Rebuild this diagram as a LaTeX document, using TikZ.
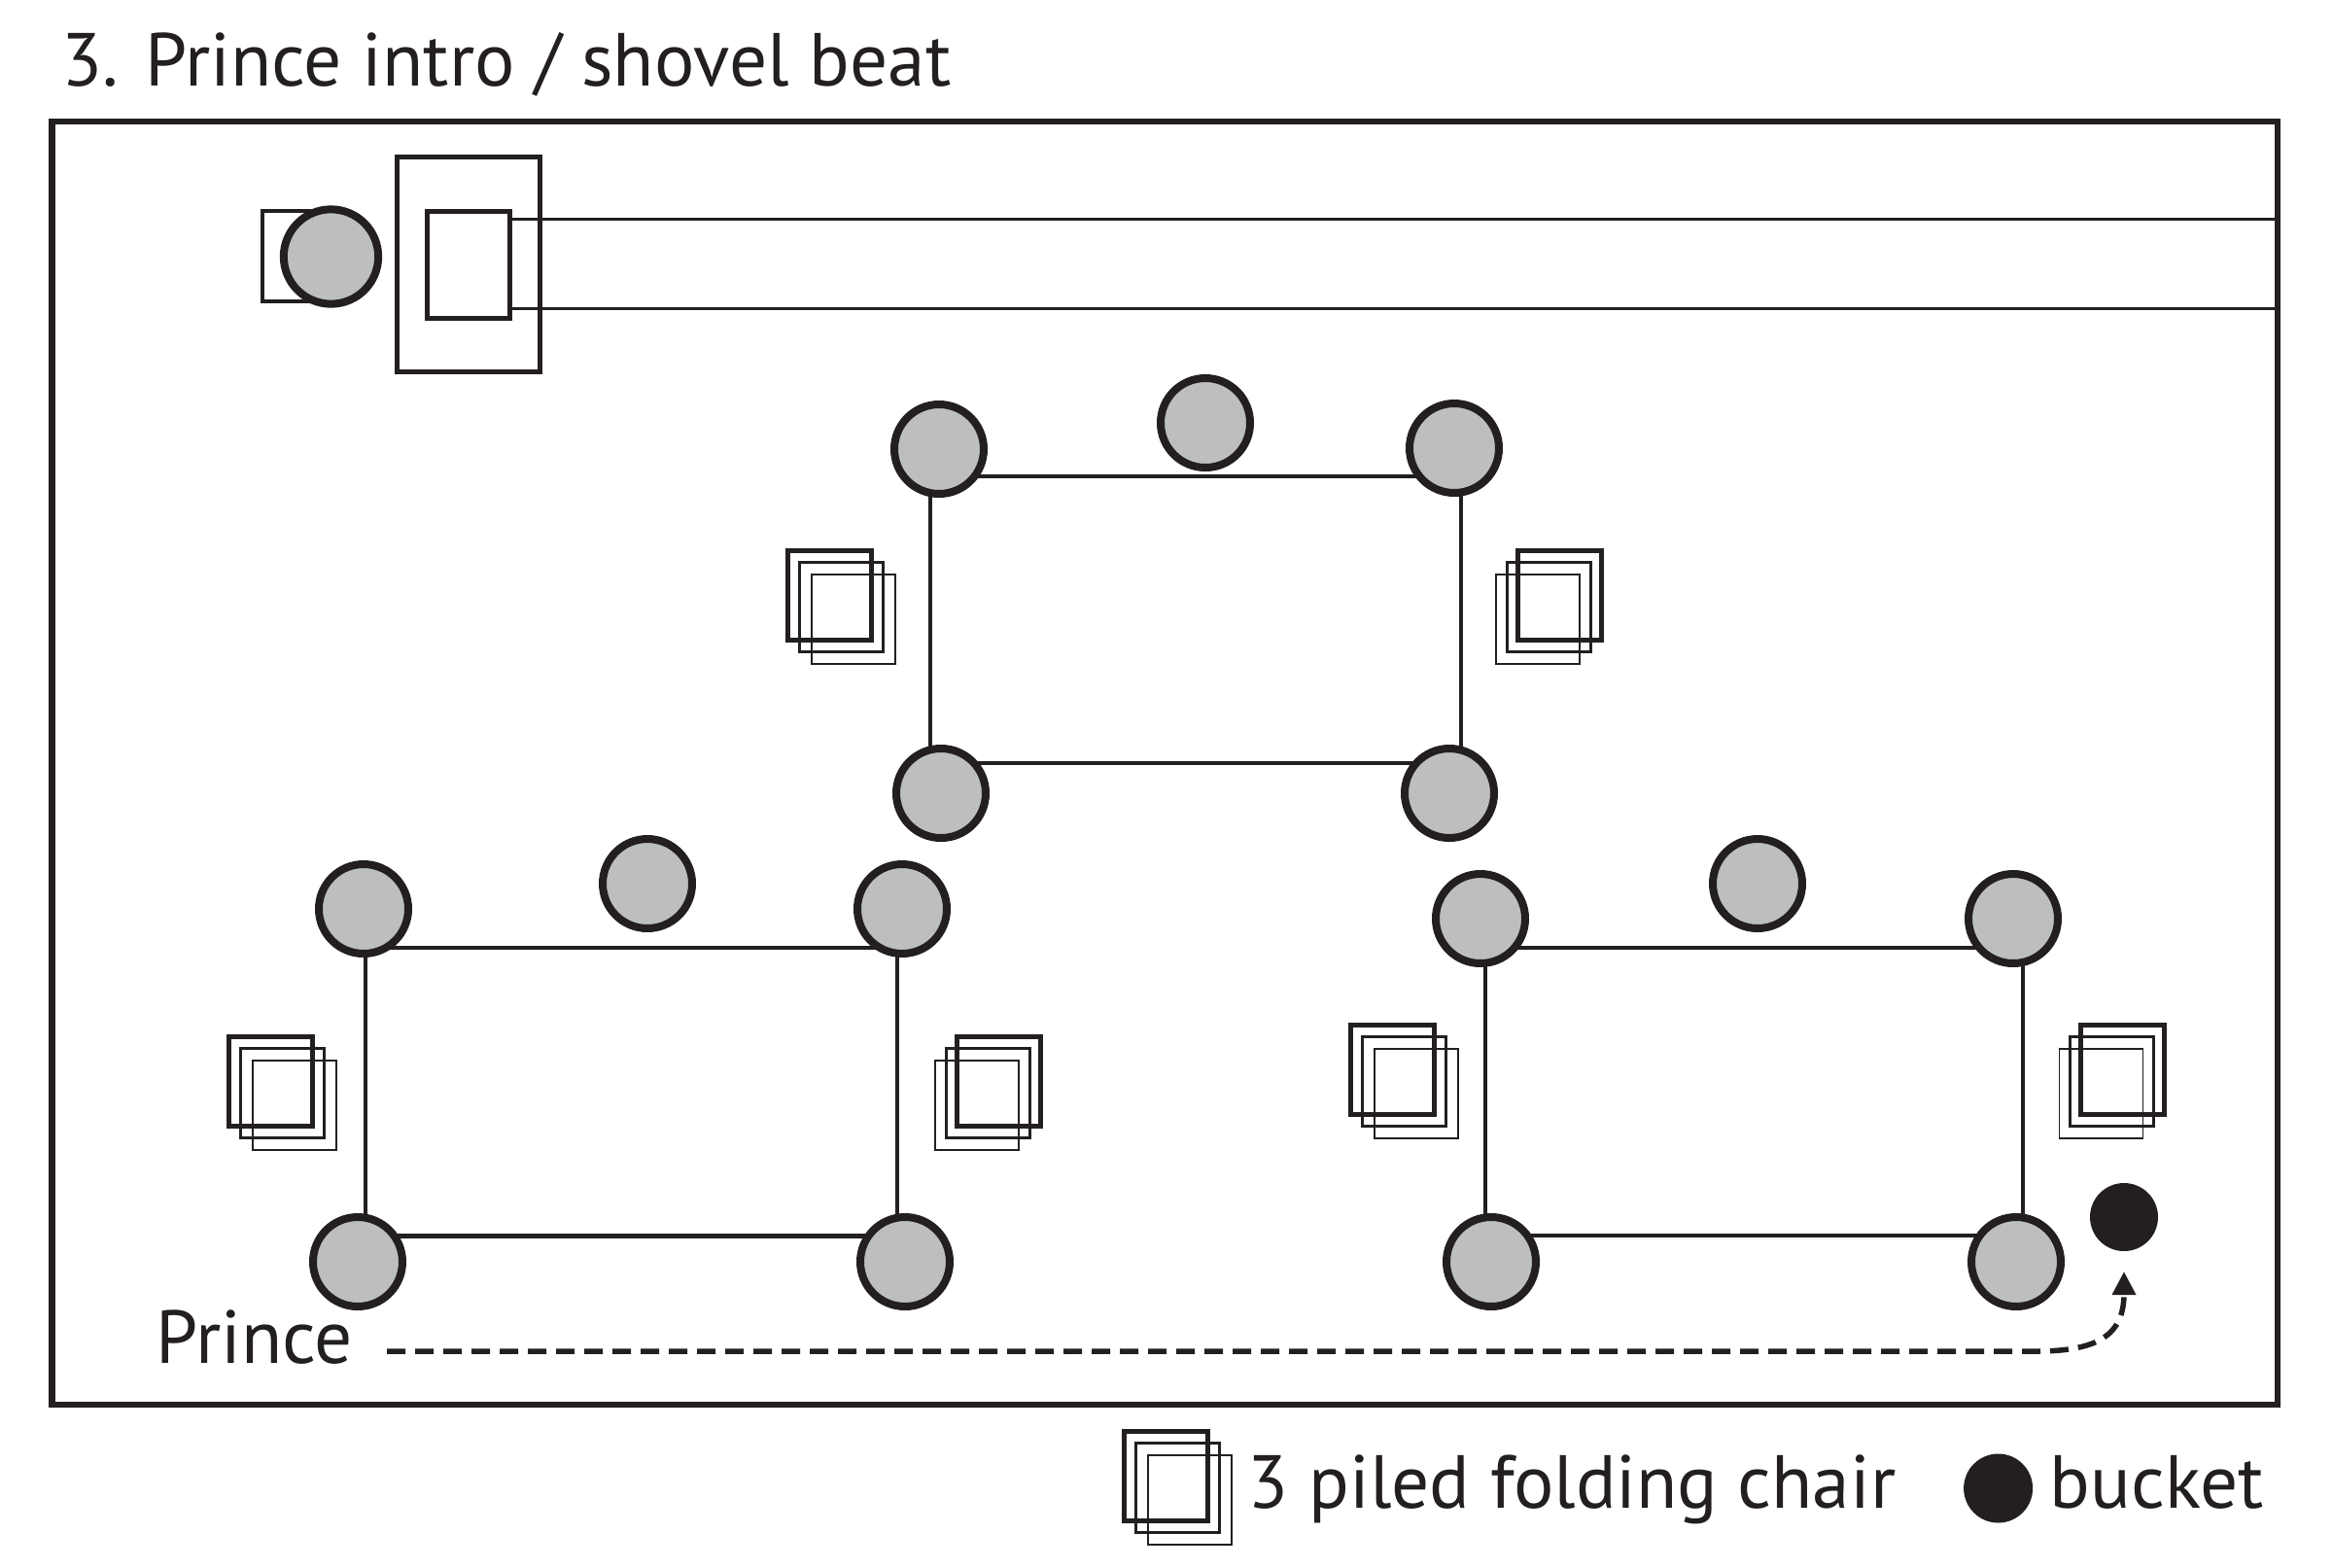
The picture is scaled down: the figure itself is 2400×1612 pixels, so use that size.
\documentclass[tikz,border=0pt]{standalone}
\usepackage{fontspec}
\setmainfont{PT Sans}
\usetikzlibrary{arrows.meta}
\definecolor{seatgray}{RGB}{188,190,192}
\definecolor{ink}{RGB}{35,31,32}
\newcommand\pileL[2]{%
  \draw[ink,line width=0.55pt] ({#1+26.9},{#2+26.9}) rectangle ++(86,92);
  \draw[ink,line width=1pt] ({#1+14.6},{#2+14.6}) rectangle ++(86,92);
  \draw[ink,line width=1.5pt] ({#1+2.5},{#2+2.5}) rectangle ++(86,92);}
\newcommand\pileR[2]{%
  \draw[ink,line width=0.55pt] ({#1-24.9},{#2+26.9}) rectangle ++(-86,92);
  \draw[ink,line width=1pt] ({#1-13.6},{#2+14.6}) rectangle ++(-86,92);
  \draw[ink,line width=1.5pt] ({#1-2.5},{#2+2.5}) rectangle ++(-86,92);}
\begin{document}
\begin{tikzpicture}[x=0.3pt,y=-0.3pt,
  seat/.style={circle,draw=ink,fill=seatgray,line width=2.4pt,minimum size=27.6pt,inner sep=0pt},
  table/.style={rectangle,draw=ink,line width=1.3pt,inner sep=0pt},
  box/.style={rectangle,draw=ink,line width=1.5pt,inner sep=0pt},
  bucketdot/.style={circle,fill=ink,minimum size=21pt,inner sep=0pt},
  txt/.style={font=\fontsize{23.2}{27}\selectfont,inner sep=0pt,anchor=base west,text=ink},
  path/.style={draw=ink,line width=1.65pt,dash pattern=on 5.7pt off 3pt,-{Triangle[length=7.2pt,width=7pt]}}]
\useasboundingbox[fill=white] (0,0) rectangle (2400,1612);

% title
\node[txt] (title) at (63,88) {3. Prince intro / shovel beat};

% frame
\node[rectangle,draw=ink,line width=2pt,inner sep=0pt,minimum width=686.85pt,minimum height=396pt] (frame) at (1198.25,785) {};

% top-left element
\draw[ink,line width=1.3pt] (320,217) -- (270,217) -- (270,310) -- (320,310);
\node[seat,minimum size=29.2pt] (tl) at (340.5,264) {};
\node[box,minimum width=43.95pt,minimum height=66.3pt] (ob) at (481.75,271.5) {};
\node[box,minimum width=25.5pt,minimum height=33pt] (ib) at (481.5,272) {};
\coordinate (l1) at (0,225.7);
\coordinate (l2) at (0,317);
\draw[ink,line width=0.9pt] (ib.east |- l1) -- (frame.east |- l1);
\draw[ink,line width=0.9pt] (ib.east |- l2) -- (frame.east |- l2);

% tables
\node[table,minimum width=163.8pt,minimum height=88.5pt] (tabT) at (1230,637.5) {};
\node[table,minimum width=164.1pt,minimum height=88.95pt] (tabL) at (649.5,1123.25) {};
\node[table,minimum width=165.9pt,minimum height=88.8pt] (tabR) at (1804.5,1123) {};

% seats top
\node[seat] (t1) at (966,462) {};
\node[seat] (t2) at (1240,435) {};
\node[seat] (t3) at (1496,461) {};
\node[seat] (t4) at (968,816) {};
\node[seat] (t5) at (1491,816) {};
% seats bottom-left
\node[seat] (a1) at (374,935) {};
\node[seat] (a2) at (666,909) {};
\node[seat] (a3) at (928,935) {};
\node[seat] (a4) at (368,1298) {};
\node[seat] (a5) at (931,1298) {};
% seats bottom-right
\node[seat] (b1) at (1523,945) {};
\node[seat] (b2) at (1808,909) {};
\node[seat] (b3) at (2071,945) {};
\node[seat] (b4) at (1534,1298) {};
\node[seat] (b5) at (2074,1298) {};

% chair piles
\pileL{808}{564}
\pileR{1650}{564}
\pileL{232.7}{1064}
\pileR{1073}{1064}
\pileL{1387}{1052}
\pileR{2229.3}{1051.7}

% bucket and Prince path
\node[bucketdot] (bucket) at (2185,1252) {};
\node[txt] (prince) at (160,1402.7) {Prince};
\coordinate (pstart) at (398,1390);
\coordinate (atip) at (2185,1308);
\draw[path] (pstart) -- (2095,1390) .. controls (2160,1390) and (2185,1372) .. (atip);

% legend
\pileL{1154}{1470}
\node[txt] (lchair) at (1283,1551.7) {3 piled folding chair};
\node[bucketdot,minimum size=21.3pt] (lbucket) at (2055.6,1531) {};
\node[txt] (lbuck) at (2108,1551.7) {bucket};
\end{tikzpicture}
\end{document}
